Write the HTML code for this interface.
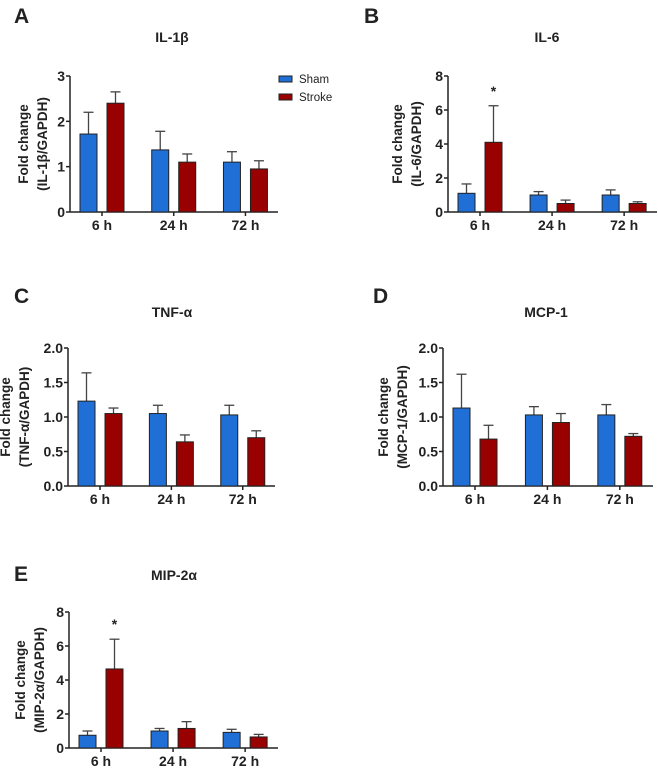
<!DOCTYPE html>
<html><head><meta charset="utf-8"><style>
html,body{margin:0;padding:0;background:#fff;}
svg{display:block;font-family:"Liberation Sans",Arial,sans-serif;}
</style></head><body>
<svg id="fig" width="658" height="770" viewBox="0 0 658 770"></svg>
<script>
const categories = ["6 h","24 h","72 h"];
const shamA = [1.72,1.37,1.1];   const shamErrA = [2.2,1.78,1.33];
const strokeA = [2.4,1.1,0.95];  const strokeErrA = [2.65,1.28,1.13];
const shamB = [1.1,1.0,1.0];     const shamErrB = [1.65,1.2,1.3];
const strokeB = [4.1,0.5,0.5];   const strokeErrB = [6.25,0.7,0.6];
const shamC = [1.23,1.05,1.03];  const shamErrC = [1.64,1.17,1.17];
const strokeC = [1.05,0.64,0.7]; const strokeErrC = [1.13,0.74,0.8];
const shamD = [1.13,1.03,1.03];  const shamErrD = [1.62,1.15,1.18];
const strokeD = [0.68,0.92,0.72];const strokeErrD = [0.88,1.05,0.76];
const shamE = [0.75,1.0,0.92];   const shamErrE = [1.0,1.15,1.1];
const strokeE = [4.65,1.15,0.65];const strokeErrE = [6.4,1.55,0.8];
const ticksA = ["0","1","2","3"];
const ticksB = ["0","2","4","6","8"];
const ticksC = ["0.0","0.5","1.0","1.5","2.0"];
const ticksE = ["0","2","4","6","8"];
const NS="http://www.w3.org/2000/svg";
const svg=document.getElementById('fig');
function mk(tag,attrs,parent,text){const e=document.createElementNS(NS,tag);for(const k in attrs)e.setAttribute(k,attrs[k]);if(text!==undefined)e.textContent=text;(parent||svg).appendChild(e);return e;}
const panels=[
 {id:'a',letter:'A',lx:14,ly:23,title:'IL-1β',tx:172,ty:42,x0:70,x1:278,yt:76,yb:212,ymax:3,ticks:ticksA,sham:shamA,se:shamErrA,str:strokeA,ste:strokeErrA,yl:'(IL-1β/GAPDH)',ylx:28,sig:false},
 {id:'b',letter:'B',lx:364,ly:23,title:'IL-6',tx:547,ty:42,x0:448,x1:657,yt:76,yb:212,ymax:8,ticks:ticksB,sham:shamB,se:shamErrB,str:strokeB,ste:strokeErrB,yl:'(IL-6/GAPDH)',ylx:402,sig:true},
 {id:'c',letter:'C',lx:14,ly:303,title:'TNF-α',tx:172,ty:317,x0:68,x1:275,yt:348,yb:486,ymax:2,ticks:ticksC,sham:shamC,se:shamErrC,str:strokeC,ste:strokeErrC,yl:'(TNF-α/GAPDH)',ylx:10,sig:false},
 {id:'d',letter:'D',lx:373,ly:303,title:'MCP-1',tx:546,ty:317,x0:443,x1:653,yt:348,yb:486,ymax:2,ticks:ticksC,sham:shamD,se:shamErrD,str:strokeD,ste:strokeErrD,yl:'(MCP-1/GAPDH)',ylx:388,sig:false},
 {id:'e',letter:'E',lx:14,ly:581,title:'MIP-2α',tx:174,ty:580,x0:69,x1:278,yt:612,yb:748,ymax:8,ticks:ticksE,sham:shamE,se:shamErrE,str:strokeE,ste:strokeErrE,yl:'(MIP-2α/GAPDH)',ylx:25,sig:true}
];
panels.forEach(p=>{
 const g=mk('g',{});
 
 
 const L=mk('text',{x:p.lx,y:p.ly,'font-size':21,'font-weight':'bold',fill:'#222'},g,p.letter);
 
 
 const T=mk('text',{x:p.tx,y:p.ty,'font-size':14,'font-weight':'bold','text-anchor':'middle',fill:'#222'},g,p.title);
 
 
 const y=v=>p.yb-(v/p.ymax)*(p.yb-p.yt);
 const n=p.ticks.length-1;
 const ya=mk('line',{x1:p.x0,y1:p.yt,x2:p.x0,y2:p.yb,stroke:'#222','stroke-width':1.5},g);
 
 
 p.ticks.forEach((t,i)=>{
  const v=p.ymax*i/n, yy=y(v);
  mk('line',{x1:p.x0-4,y1:yy,x2:p.x0,y2:yy,stroke:'#222','stroke-width':1.5},g);
  const tl=mk('text',{x:p.x0-5,y:yy+5,'font-size':14,'font-weight':'bold','text-anchor':'end',fill:'#222'},g,t);
  
  
 });
 const xa=mk('line',{x1:p.x0,y1:p.yb,x2:p.x1,y2:p.yb,stroke:'#222','stroke-width':1.5},g);
 
 
 const sp=(p.x1-p.x0)/2.9, bw=17;
 categories.forEach((c,i)=>{
  const gx=p.x0+10+i*sp, cx=gx+22;
  mk('line',{x1:cx,y1:p.yb,x2:cx,y2:p.yb+4,stroke:'#222','stroke-width':1.5},g);
  const xl=mk('text',{x:cx,y:p.yb+18,'font-size':14,'font-weight':'bold','text-anchor':'middle',fill:'#222'},g,c);
  
  
  [[p.sham[i],p.se[i],gx,'#1f6fd6','sham'],[p.str[i],p.ste[i],gx+27,'#990000','stroke']].forEach(([v,e,bx,col,nm])=>{
   const ex=bx+bw/2;
   mk('line',{x1:ex,y1:y(v),x2:ex,y2:y(e),stroke:'#444','stroke-width':1.3},g);
   mk('line',{x1:ex-5,y1:y(e),x2:ex+5,y2:y(e),stroke:'#444','stroke-width':1.3},g);
   const r=mk('rect',{x:bx,y:y(v),width:bw,height:p.yb-y(v),fill:col,stroke:'#222','stroke-width':1},g);
   
   
   if(p.sig&&nm==='stroke'&&i===0){
    const s=mk('text',{x:ex,y:y(e)-10,'font-size':14,'font-weight':'bold','text-anchor':'middle',fill:'#222'},g,'*');
    
    
   }
  });
 });
 const cy=(p.yt+p.yb)/2;
 const y1=mk('text',{x:p.ylx,y:cy,'font-size':13.5,'font-weight':'bold','text-anchor':'middle',fill:'#222',transform:`rotate(-90 ${p.ylx} ${cy})`},g,'Fold change');
 
 
 const y2=mk('text',{x:p.ylx+19,y:cy,'font-size':13.5,'font-weight':'bold','text-anchor':'middle',fill:'#222',transform:`rotate(-90 ${p.ylx+19} ${cy})`},g,p.yl);
 
 
});
const lg=mk('g',{});


[['Sham','#1f6fd6',76],['Stroke','#990000',94]].forEach(([t,c,yy])=>{
 const r=mk('rect',{x:279,y:yy,width:13,height:6,fill:c,stroke:'#222','stroke-width':1},lg);
 
 
 const tx=mk('text',{x:299,y:yy+7,'font-size':11.5,fill:'#222'},lg,t);
 
 
});
</script>
</body></html>
